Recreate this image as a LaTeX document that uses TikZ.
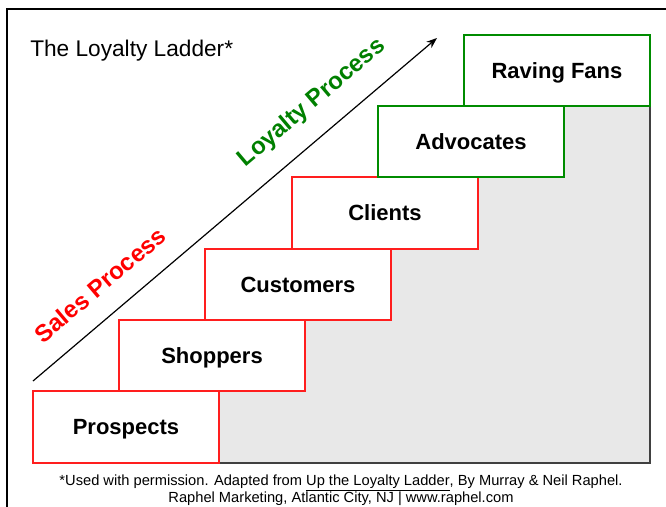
\documentclass[tikz,border=0pt]{standalone}
\usepackage{fontspec}
\setmainfont{Liberation Sans}
\usetikzlibrary{arrows.meta}

\definecolor{stepred}{RGB}{255,30,30}
\definecolor{stepgreen}{RGB}{0,140,0}
\definecolor{textgreen}{RGB}{0,128,0}
\definecolor{floorgray}{RGB}{232,232,232}

\tikzset{
  rung/.style={draw, fill=white, line width=1.125pt, minimum width=139.5pt,
    minimum height=53.25pt, inner sep=0pt, outer sep=0pt,
    text height=11.6pt, text depth=0pt,
    font=\fontsize{16.5}{18}\selectfont\bfseries},
  sales/.style={rung, draw=stepred},
  loyal/.style={rung, draw=stepgreen},
  slogan/.style={rotate=40.3, font=\fontsize{18}{20}\selectfont\bfseries}
}

\begin{document}
\begin{tikzpicture}[x=0.75pt, y=-0.75pt]
\useasboundingbox (0,0) rectangle (666,506);

% frame
\draw[line width=1.5pt] (7,530) -- (7,9) -- (690,9);

\node[anchor=base west, inner sep=0pt, font=\fontsize{17}{20}\selectfont] (title) at (30,57) {The Loyalty Ladder*};

% gray floor under the steps
\fill[floorgray] (219,463) -- (650,463) -- (650,106) -- (378,106) -- (378,177) -- (292,177)
  -- (292,249) -- (205,249) -- (205,320) -- (119,320) -- (119,391) -- (219,391) -- cycle;
\draw[black!75, line width=0.9pt] (219,463) -- (650,463) -- (650,106);

% the steps
\node[sales, minimum height=54pt] (prospects) at (126,427) {Prospects};
\node[sales] (shoppers)  at (212,355.5) {Shoppers};
\node[sales] (customers) at (298,284.5) {Customers};
\node[sales, minimum height=54pt] (clients) at (385,213) {Clients};
\node[loyal] (advocates) at (471,141.5) {Advocates};
\node[loyal] (fans)      at (557,70.5) {Raving Fans};

% process arrow
\coordinate (low) at (33,381);
\coordinate (high) at (437,38);
\draw[line width=0.9pt, -{Stealth[length=8pt, width=6pt]}] (low) -- (high);

\node[slogan, text=red] (salesp) at (100,285) {Sales Process};
\node[slogan, text=textgreen] (loyalp) at (312,103) {Loyalty Process};

\node[align=center, font=\fontsize{11}{12.75}\selectfont] (note) at (341,490)
  {*Used with permission. Adapted from \underline{Up the Loyalty Ladder}, By Murray \& Neil Raphel.\\
   Raphel Marketing, Atlantic City, NJ | www.raphel.com};
\end{tikzpicture}
\end{document}
